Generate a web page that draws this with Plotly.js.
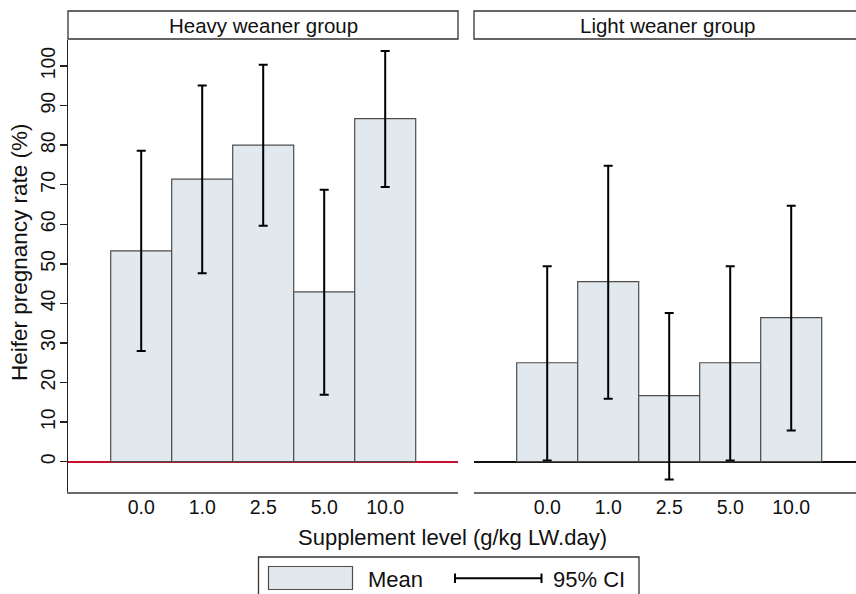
<!DOCTYPE html>
<html>
<head>
<meta charset="utf-8">
<script src="https://cdn.plot.ly/plotly-3.0.1.min.js"></script>
<style>html,body{margin:0;padding:0;background:#fff;}#chart{width:856px;height:594px;}</style>
</head>
<body>
<div id="chart"></div>
<script>
// ---- data ----
var levels = ['0.0', '1.0', '2.5', '5.0', '10.0'];
var heavyMean = [53.3, 71.4, 80.0, 42.9, 86.7];
var heavyLow  = [28.0, 47.6, 59.6, 16.9, 69.4];
var heavyHigh = [78.6, 95.1, 100.3, 68.7, 103.8];
var lightMean = [25.0, 45.5, 16.7, 25.0, 36.4];
var lightLow  = [0.3, 15.9, -4.5, 0.3, 7.9];
var lightHigh = [49.4, 74.8, 37.6, 49.4, 64.7];
var panelTitles = ['Heavy weaner group', 'Light weaner group'];
var yTicks = [0, 10, 20, 30, 40, 50, 60, 70, 80, 90, 100];

// ---- layout helpers (pixels -> paper) ----
var W = 856, H = 594, mL = 68, mR = 0, mT = 40, mB = 102;
var pw = W - mL - mR, ph = H - mT - mB;
function px(x) { return (x - mL) / pw; }
function py(y) { return (mT + ph - y) / ph; }

function diff(a, b) { return a.map(function (v, i) { return v - b[i]; }); }

var font = 'Liberation Sans, Arial, Helvetica, sans-serif';
var barFill = '#e1e8ee', barLine = '#4d4d4d';
var tickSize = 19.5;

function barTrace(mean, low, high, xa, ya) {
  return {
    type: 'bar', x: levels, y: mean, xaxis: xa, yaxis: ya,
    width: 1, showlegend: false, hoverinfo: 'skip',
    marker: { color: barFill, line: { color: barLine, width: 1.2 } },
    error_y: {
      type: 'data', symmetric: false,
      array: diff(high, mean), arrayminus: diff(mean, low),
      color: '#000', thickness: 2, width: 4.5
    }
  };
}

var data = [
  barTrace(heavyMean, heavyLow, heavyHigh, 'x', 'y'),
  barTrace(lightMean, lightLow, lightHigh, 'x2', 'y2')
];

var yRange = [-7.66, 106.57];
var xDom1 = [0, px(458)], xDom2 = [px(474), 1];

var layout = {
  width: W, height: H,
  margin: { l: mL, r: mR, t: mT, b: mB, pad: 0 },
  paper_bgcolor: '#fff', plot_bgcolor: '#fff',
  font: { family: font, color: '#111', size: 18 },
  bargap: 0,
  showlegend: false,
  xaxis: {
    domain: xDom1, type: 'category', range: [-1.2, -1.2 + 390 / 61],
    showgrid: false, zeroline: false, showline: true, linecolor: '#6b6b6b', linewidth: 1.5,
    ticks: '', tickfont: { size: tickSize, family: font, color: '#111' }, ticklabelstandoff: -3, fixedrange: true
  },
  xaxis2: {
    domain: xDom2, type: 'category', range: [-1.2, -1.2 + 382 / 61], anchor: 'y2',
    showgrid: false, zeroline: false, showline: true, linecolor: '#6b6b6b', linewidth: 1.5,
    ticks: '', tickfont: { size: tickSize, family: font, color: '#111' }, ticklabelstandoff: -3, fixedrange: true
  },
  yaxis: {
    range: yRange, tickvals: yTicks, ticktext: yTicks.map(String), tickangle: -90,
    showgrid: false, zeroline: true, zerolinecolor: '#c8102e', zerolinewidth: 1.8,
    showline: true, linecolor: '#222', linewidth: 1.5,
    ticks: 'outside', ticklen: 7, tickwidth: 1.5, tickcolor: '#222',
    tickfont: { size: tickSize, family: font, color: '#111' }, ticklabelstandoff: -3, fixedrange: true
  },
  yaxis2: {
    range: yRange, anchor: 'x2', showticklabels: false, ticks: '',
    showgrid: false, zeroline: true, zerolinecolor: '#111', zerolinewidth: 1.8,
    showline: false, fixedrange: true
  },
  shapes: [
    // panel header boxes
    { type: 'rect', xref: 'paper', yref: 'paper', x0: 0, x1: px(458), y0: py(39), y1: py(11),
      line: { color: '#333', width: 1.3 }, fillcolor: '#fff', layer: 'above' },
    { type: 'rect', xref: 'paper', yref: 'paper', x0: px(474), x1: px(870), y0: py(39), y1: py(11),
      line: { color: '#333', width: 1.3 }, fillcolor: '#fff', layer: 'above' },
    // legend box
    { type: 'rect', xref: 'paper', yref: 'paper', x0: px(258.5), x1: px(639), y0: py(605), y1: py(557),
      line: { color: '#333', width: 1.3 }, fillcolor: 'rgba(0,0,0,0)' },
    // legend swatch
    { type: 'rect', xref: 'paper', yref: 'paper', x0: px(268.5), x1: px(352.5), y0: py(589.5), y1: py(566.5),
      line: { color: barLine, width: 1.2 }, fillcolor: barFill },
    // legend CI symbol
    { type: 'line', xref: 'paper', yref: 'paper', x0: px(455), x1: px(541.5), y0: py(578.3), y1: py(578.3),
      line: { color: '#000', width: 2 } },
    { type: 'line', xref: 'paper', yref: 'paper', x0: px(455), x1: px(455), y0: py(573.5), y1: py(583),
      line: { color: '#000', width: 2 } },
    { type: 'line', xref: 'paper', yref: 'paper', x0: px(541.5), x1: px(541.5), y0: py(573.5), y1: py(583),
      line: { color: '#000', width: 2 } }
  ],
  annotations: [
    { xref: 'paper', yref: 'paper', x: px(263), y: py(25), text: panelTitles[0], showarrow: false,
      xanchor: 'center', yanchor: 'middle', font: { size: 20.5, family: font, color: '#111' } },
    { xref: 'paper', yref: 'paper', x: px(667.5), y: py(25), text: panelTitles[1], showarrow: false,
      xanchor: 'center', yanchor: 'middle', font: { size: 20.5, family: font, color: '#111' } },
    { xref: 'paper', yref: 'paper', x: px(452), y: py(537), text: 'Supplement level (g/kg LW.day)', showarrow: false,
      xanchor: 'center', yanchor: 'middle', font: { size: 22, family: font, color: '#111' } },
    { xref: 'paper', yref: 'paper', x: px(20), y: py(252), text: 'Heifer pregnancy rate (%)', showarrow: false,
      textangle: -90, xanchor: 'center', yanchor: 'middle', font: { size: 22.5, family: font, color: '#111' } },
    { xref: 'paper', yref: 'paper', x: px(366), y: py(579), text: 'Mean', showarrow: false,
      xanchor: 'left', yanchor: 'middle', font: { size: 22, family: font, color: '#111' } },
    { xref: 'paper', yref: 'paper', x: px(551), y: py(579), text: '95% CI', showarrow: false,
      xanchor: 'left', yanchor: 'middle', font: { size: 22, family: font, color: '#111' } }
  ]
};

Plotly.newPlot('chart', data, layout, { displayModeBar: false, staticPlot: true });
</script>
</body>
</html>
